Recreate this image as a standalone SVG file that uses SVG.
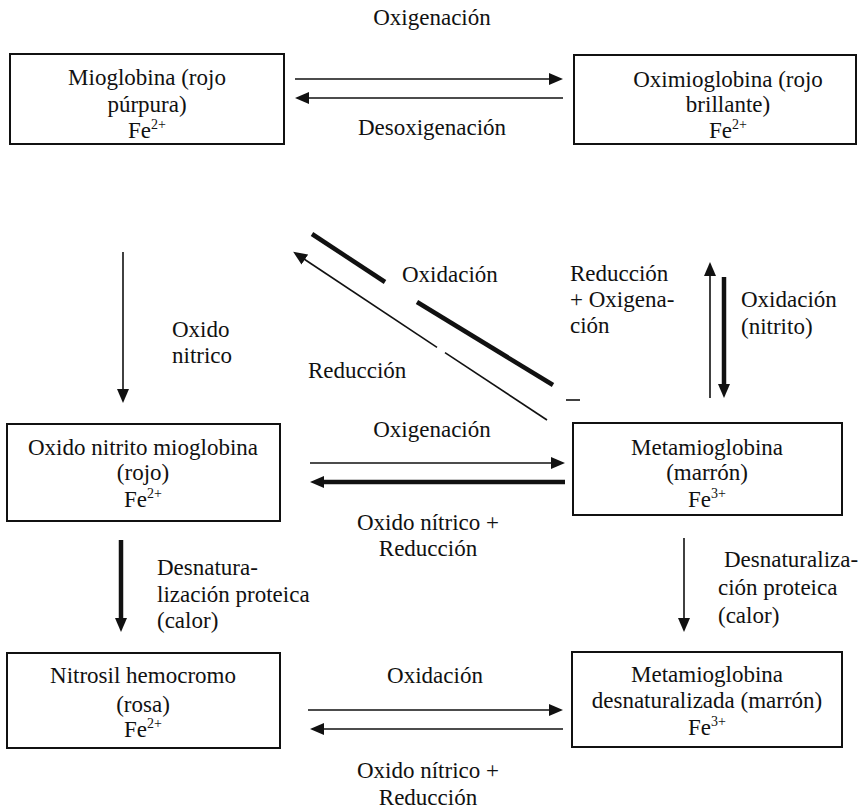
<svg xmlns="http://www.w3.org/2000/svg" width="862" height="809" viewBox="0 0 862 809">
<style>
text{font-family:"Liberation Serif","Times New Roman",serif;font-size:23px;fill:#111}
.c{text-anchor:middle}
.sup{font-size:14px}
.box{fill:#fff;stroke:#111;stroke-width:2}
.thin{stroke:#111;stroke-width:1.6;fill:none}
.thick{stroke:#111;stroke-width:4.5;fill:none}
</style>
<defs>
<marker id="ah" viewBox="0 0 14 12" refX="1" refY="6" markerWidth="14" markerHeight="12" orient="auto" markerUnits="userSpaceOnUse">
<path d="M0,0 L14,6 L0,12 z" fill="#111"/>
</marker>
</defs>
<rect width="862" height="809" fill="#fff"/>

<g id="n1">
<rect class="box" x="10" y="54" width="274" height="90"/>
<text class="c" x="147" y="85">Mioglobina (rojo</text>
<text class="c" x="147" y="112">púrpura)</text>
<text class="c" x="147" y="138">Fe<tspan class="sup" dy="-9">2+</tspan></text>
</g>
<g id="n2">
<rect class="box" x="574" y="55" width="282" height="89"/>
<text class="c" x="728" y="87">Oximioglobina (rojo</text>
<text class="c" x="728" y="112">brillante)</text>
<text class="c" x="728" y="138">Fe<tspan class="sup" dy="-9">2+</tspan></text>
</g>
<g id="n3">
<rect class="box" x="7" y="424" width="273" height="97"/>
<text class="c" x="143" y="455">Oxido nitrito mioglobina</text>
<text class="c" x="143" y="480">(rojo)</text>
<text class="c" x="143" y="507">Fe<tspan class="sup" dy="-9">2+</tspan></text>
</g>
<g id="n4">
<rect class="box" x="573" y="423" width="269" height="92"/>
<text class="c" x="707" y="455">Metamioglobina</text>
<text class="c" x="707" y="480">(marrón)</text>
<text class="c" x="707" y="507">Fe<tspan class="sup" dy="-9">3+</tspan></text>
</g>
<g id="n5">
<rect class="box" x="7" y="653" width="273" height="95"/>
<text class="c" x="143" y="683">Nitrosil hemocromo</text>
<text class="c" x="143" y="712">(rosa)</text>
<text class="c" x="143" y="737">Fe<tspan class="sup" dy="-9">2+</tspan></text>
</g>
<g id="n6">
<rect class="box" x="572" y="652" width="270" height="95"/>
<text class="c" x="707" y="682">Metamioglobina</text>
<text class="c" x="707" y="708">desnaturalizada (marrón)</text>
<text class="c" x="707" y="735">Fe<tspan class="sup" dy="-9">3+</tspan></text>
</g>

<g id="connectors">
<line class="thin" x1="295" y1="79" x2="550" y2="79" marker-end="url(#ah)"/>
<line class="thin" x1="563" y1="98" x2="308" y2="98" marker-end="url(#ah)"/>
<line class="thin" x1="123" y1="252" x2="123" y2="390" marker-end="url(#ah)"/>
<line class="thick" x1="312" y1="234" x2="385" y2="282"/>
<line class="thick" x1="417" y1="302" x2="553" y2="385"/>
<line class="thin" x1="566" y1="400" x2="580" y2="400"/>
<line class="thin" x1="547" y1="420" x2="445" y2="352.6"/>
<line class="thin" x1="437" y1="347.3" x2="304" y2="259" marker-end="url(#ah)"/>
<line class="thin" x1="710" y1="398" x2="710" y2="275" marker-end="url(#ah)"/>
<line class="thick" x1="724" y1="277" x2="724" y2="385" marker-end="url(#ah)"/>
<line class="thin" x1="310" y1="463" x2="552" y2="463" marker-end="url(#ah)"/>
<line class="thick" x1="565" y1="482" x2="323" y2="482" marker-end="url(#ah)"/>
<line class="thick" x1="121" y1="540" x2="121" y2="619" marker-end="url(#ah)"/>
<line class="thin" x1="684" y1="538" x2="684" y2="619" marker-end="url(#ah)"/>
<line class="thin" x1="308" y1="710" x2="550" y2="710" marker-end="url(#ah)"/>
<line class="thin" x1="563" y1="729" x2="323" y2="729" marker-end="url(#ah)"/>
</g>

<g id="labels">
<text class="c" x="432" y="25">Oxigenación</text>
<text class="c" x="432" y="135">Desoxigenación</text>
<text x="402" y="282">Oxidación</text>
<text x="308" y="378">Reducción</text>
<text x="570" y="281">Reducción</text>
<text x="570" y="307">+ Oxigena-</text>
<text x="570" y="333">ción</text>
<text x="741" y="307">Oxidación</text>
<text x="741" y="334">(nitrito)</text>
<text x="172" y="337">Oxido</text>
<text x="172" y="363">nitrico</text>
<text class="c" x="432" y="437">Oxigenación</text>
<text class="c" x="428" y="530">Oxido nítrico +</text>
<text class="c" x="428" y="556">Reducción</text>
<text x="157" y="575">Desnatura-</text>
<text x="157" y="602">lización proteica</text>
<text x="157" y="628">(calor)</text>
<text x="724" y="567">Desnaturaliza-</text>
<text x="718" y="595">ción proteica</text>
<text x="718" y="623">(calor)</text>
<text class="c" x="435" y="683">Oxidación</text>
<text class="c" x="428" y="778">Oxido nítrico +</text>
<text class="c" x="428" y="805">Reducción</text>
</g>
</svg>
